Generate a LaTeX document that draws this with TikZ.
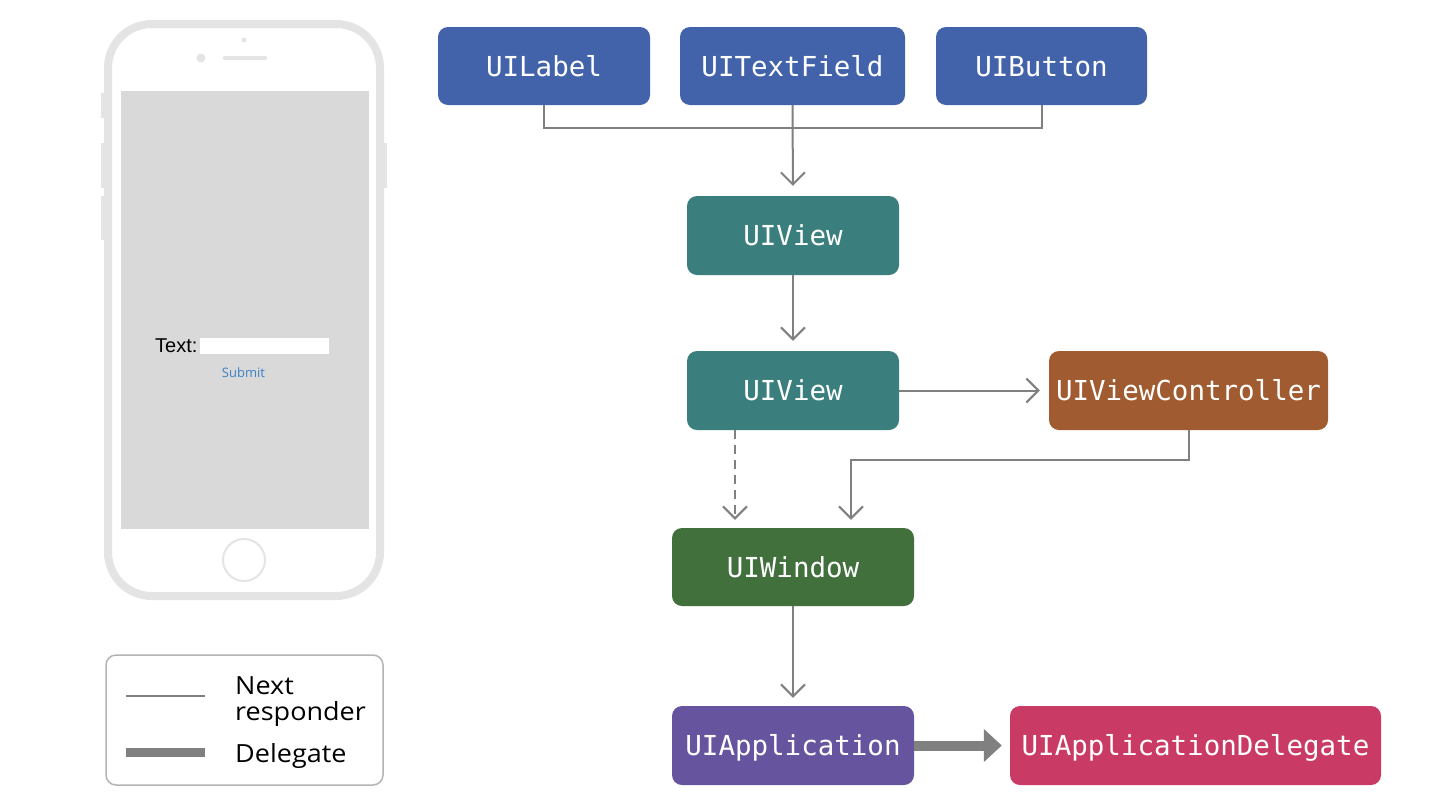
\documentclass[tikz,border=0pt]{standalone}
\usepackage{fontspec}
\setmainfont{Open Sans}
\setsansfont{Liberation Sans}
\setmonofont{DejaVu Sans Mono}
\newfontfamily\legendfont[FakeStretch=1.08]{Open Sans}
\usetikzlibrary{arrows.meta,calc}
\definecolor{cblue}{RGB}{66,98,170}
\definecolor{cteal}{RGB}{58,127,125}
\definecolor{cbrown}{RGB}{161,91,48}
\definecolor{cgreen}{RGB}{65,112,61}
\definecolor{cpurple}{RGB}{103,84,159}
\definecolor{cpink}{RGB}{201,58,100}
\definecolor{lgray}{RGB}{128,128,128}
\definecolor{phone}{RGB}{228,228,228}
\definecolor{screen}{RGB}{217,217,217}
\definecolor{submitblue}{RGB}{59,130,196}
\tikzset{
  cls/.style={rounded corners=10pt, text=white, inner sep=0pt,
    font=\ttfamily\fontsize{27.5}{30}\selectfont, text height=20pt, text depth=0pt},
  nr/.style={draw=lgray, line width=2pt},
  nrarrow/.style={nr, -{Straight Barb[length=12pt,width=24pt,line width=2pt]}},
  delegatearrow/.style={draw=lgray, line width=10pt, -{Triangle[length=18pt,width=32pt]}},
  legendtext/.style={anchor=base west, inner sep=0pt, font=\legendfont\fontsize{25}{27}\selectfont},
}
\begin{document}
\begin{tikzpicture}[x=1pt,y=-1pt]
\useasboundingbox (0,0) rectangle (1432,804);
\fill[white] (0,0) rectangle (1432,804);

% phone
\fill[phone] (101,93) rectangle (106,118);
\fill[phone] (101,143) rectangle (106,188);
\fill[phone] (101,196) rectangle (106,240);
\fill[phone] (382,143) rectangle (387,188);
\draw[phone, line width=8pt, fill=white, rounded corners=44pt] (108,24) rectangle (380,596);
\fill[screen] (121,91) rectangle (369,529);
\fill[phone] (201,58) circle (4.5pt);
\fill[phone] (244,40) circle (2.5pt);
\draw[phone, line width=4.5pt, line cap=round] (225,58) -- (265,58);
\draw[phone, line width=2pt] (244,560) circle (21pt);
\fill[white] (200,338) rectangle (329,354);
\node[anchor=base west, inner sep=0pt, font=\sffamily\fontsize{20}{22}\selectfont] (txtlbl) at (155,352) {Text:};
\node[anchor=base, inner sep=0pt, text=submitblue, font=\fontsize{13}{14}\selectfont] (submit) at (243.5,377) {Submit};

% legend
\draw[draw={rgb,255:red,180;green,180;blue,180}, line width=1.5pt, rounded corners=10pt] (106,655) rectangle (383,785);
\coordinate (l1a) at (126,696);
\coordinate (l1b) at (205,696);
\coordinate (l2a) at (126,752);
\coordinate (l2b) at (205,752);
\draw[nr] (l1a) -- (l1b);
\draw[draw=lgray, line width=9pt] (l2a) -- (l2b);
\node[legendtext] (next) at (235,694) {Next};
\node[legendtext] (resp) at (235,720) {responder};
\node[legendtext] (dele) at (235,762) {Delegate};

% class nodes
\node[cls, fill=cblue, minimum width=212pt, minimum height=78pt] (label) at (544,66) {UILabel};
\node[cls, fill=cblue, minimum width=225pt, minimum height=78pt] (tf) at (792.5,66) {UITextField};
\node[cls, fill=cblue, minimum width=211pt, minimum height=78pt] (button) at (1041.5,66) {UIButton};
\node[cls, fill=cteal, minimum width=212pt, minimum height=79pt] (v1) at (793,235.5) {UIView};
\node[cls, fill=cteal, minimum width=212pt, minimum height=79pt] (v2) at (793,390.5) {UIView};
\node[cls, fill=cbrown, minimum width=279pt, minimum height=79pt] (vc) at (1188.5,390.5) {UIViewController};
\node[cls, fill=cgreen, minimum width=242pt, minimum height=78pt] (win) at (793,567) {UIWindow};
\node[cls, fill=cpurple, minimum width=242pt, minimum height=79pt] (app) at (793,745.5) {UIApplication};
\node[cls, fill=cpink, minimum width=371pt, minimum height=79pt] (del) at (1195.5,745.5) {UIApplicationDelegate};

% connectors
\coordinate (j) at (793,128);
\draw[nr] (label.south) |- (j) -| (button.south);
\draw[nrarrow, shorten >=10pt] (tf.south) -- (v1.north);
\draw[nrarrow, shorten >=10pt] (v1.south) -- (v2.north);
\draw[nrarrow, shorten >=9pt] (v2.east) -- (vc.west);
\draw[nrarrow, dashed, dash pattern=on 9pt off 6pt, shorten >=8pt] ([xshift=-58pt]v2.south) -- ([xshift=-58pt]win.north);
\coordinate (c1) at (851,460);
\draw[nrarrow, shorten >=8pt] (vc.south) |- (c1) -- (c1 |- win.north);
\draw[nrarrow, shorten >=8pt] (win.south) -- (app.north);
\draw[delegatearrow, shorten >=8pt] (app.east) -- (del.west);
\end{tikzpicture}
\end{document}
